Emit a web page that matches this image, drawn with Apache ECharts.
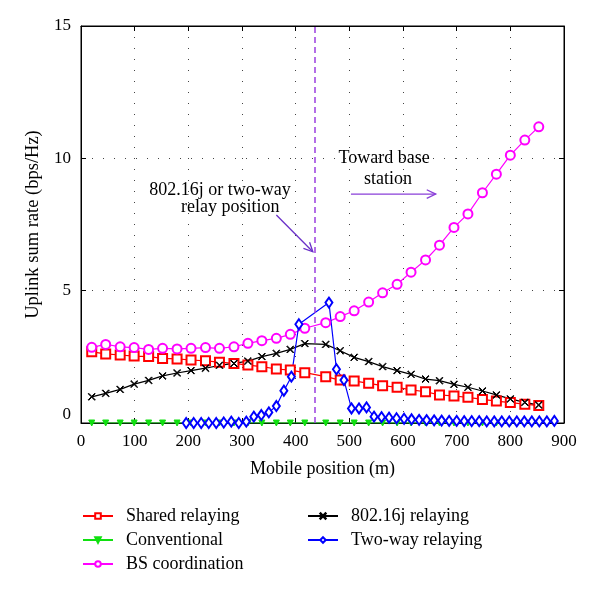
<!DOCTYPE html>
<html>
<head>
<meta charset="utf-8">
<script src="https://cdn.jsdelivr.net/npm/echarts@6/dist/echarts.min.js"></script>
<style>
html, body { margin: 0; padding: 0; background: #fff; }
#uplink-chart { width: 600px; height: 593px; }
</style>
</head>
<body>
<div id="uplink-chart"></div>
<script>
// mobile positions (m) shared by the first four curves
var mobilePos = [20, 46, 73, 99, 126, 152, 179, 205, 232, 258, 285, 311, 337, 364, 390, 417,
	456, 483, 509, 536, 562, 589, 615, 642, 668, 695, 721, 748, 774, 800, 827, 853];
var sharedRelaying = [2.69, 2.61, 2.57, 2.53, 2.51, 2.44, 2.42, 2.38, 2.35, 2.30, 2.25, 2.19, 2.13, 2.04, 2.00, 1.90,
	1.75, 1.62, 1.59, 1.50, 1.41, 1.35, 1.25, 1.18, 1.06, 1.02, 0.97, 0.89, 0.83, 0.77, 0.71, 0.66];
var conventional = [0, 0, 0, 0, 0, 0, 0, 0, 0, 0, 0, 0, 0, 0, 0, 0,
	0, 0, 0, 0, 0, 0, 0, 0, 0, 0, 0, 0, 0, 0, 0, 0];
var bsCoordination = [2.86, 2.97, 2.88, 2.85, 2.78, 2.82, 2.80, 2.82, 2.85, 2.82, 2.88, 3.01, 3.11, 3.20, 3.35, 3.58,
	3.79, 4.02, 4.24, 4.57, 4.92, 5.24, 5.70, 6.16, 6.72, 7.39, 7.90, 8.70, 9.40, 10.12, 10.69, 11.19];
var relay80216j = [0.99, 1.12, 1.27, 1.47, 1.61, 1.78, 1.89, 1.98, 2.07, 2.18, 2.25, 2.34, 2.51, 2.63, 2.78, 3.00,
	2.97, 2.73, 2.48, 2.32, 2.13, 1.98, 1.84, 1.66, 1.60, 1.46, 1.35, 1.21, 1.06, 0.91, 0.78, 0.68];

// two-way relaying is sampled on its own, finer grid
var twoWayPos = [196, 210, 224, 238, 252, 266, 280, 294, 308, 322, 336, 350, 364, 378, 392, 406,
	462, 476, 490, 504, 518, 532, 546, 560, 574, 588, 602, 616, 630, 644, 658, 672,
	686, 700, 714, 728, 742, 756, 770, 784, 798, 812, 826, 840, 854, 868, 882];
var twoWayRelaying = [0, 0, 0, 0, 0, 0.02, 0.05, 0, 0.05, 0.24, 0.30, 0.40, 0.64, 1.22, 1.75, 3.73,
	4.55, 2.03, 1.62, 0.55, 0.55, 0.59, 0.24, 0.22, 0.20, 0.18, 0.16, 0.14, 0.12, 0.11, 0.10, 0.09,
	0.08, 0.08, 0.07, 0.07, 0.07, 0.06, 0.06, 0.06, 0.06, 0.06, 0.06, 0.06, 0.06, 0.06, 0.08];

var relayPos = 435;
var xTicks = { min: 0, max: 900, step: 100 };
var yTicks = { min: 0, max: 15, step: 5 };

var serif = '"Liberation Serif", "DejaVu Serif", serif';

function zip(xs, ys) {
	var out = [];
	for (var i = 0; i < xs.length; i++) {
		out.push([xs[i], ys[i]]);
	}
	return out;
}

// MATLAB-like thin "x" marker
var crossMark = 'path://M0,0.7L0.7,0L5,4.3L9.3,0L10,0.7L5.7,5L10,9.3L9.3,10L5,5.7L0.7,10L0,9.3L4.3,5Z';

function frameAxis(pos, ticks, withLabels) {
	return {
		type: 'value',
		position: pos,
		min: ticks.min,
		max: ticks.max,
		interval: ticks.step,
		axisLine: { show: true, onZero: false, lineStyle: { color: '#000', width: 1 } },
		axisTick: { show: true, inside: true, length: 5, lineStyle: { color: '#000' } },
		axisLabel: { show: withLabels, color: '#000', fontSize: 17, fontFamily: serif, margin: 10 },
		splitLine: {
			show: withLabels,
			lineStyle: { color: '#444', width: 1, type: [1, 10] }
		}
	};
}

var xBottom = frameAxis('bottom', xTicks, true);
xBottom.name = 'Mobile position (m)';
xBottom.nameLocation = 'middle';
xBottom.nameGap = 37;
xBottom.nameTextStyle = { color: '#000', fontSize: 18, fontFamily: serif };

var yLeft = frameAxis('left', yTicks, true);
yLeft.name = 'Uplink sum rate (bps/Hz)';
yLeft.nameLocation = 'middle';
yLeft.nameGap = 37;
yLeft.nameTextStyle = { color: '#000', fontSize: 18.5, fontFamily: serif };
// the "0" on the y axis sits a little above the corner, as in the original
yLeft.axisLabel.formatter = function (v) { return v === 0 ? '{z|0}' : String(v); };
yLeft.axisLabel.rich = { z: { fontSize: 17, fontFamily: serif, color: '#000', padding: [0, 0, 16, 0] } };

function lineSeries(name, xs, ys, color, symbol, size, extra) {
	var s = {
		name: name,
		type: 'line',
		data: zip(xs, ys),
		symbol: symbol,
		symbolSize: size,
		showAllSymbol: true,
		lineStyle: { color: color, width: 1.2 },
		itemStyle: { color: color, borderColor: color, borderWidth: 1 }
	};
	for (var k in extra) s[k] = extra[k];
	return s;
}

var legendText = { color: '#000', fontSize: 18, fontFamily: serif, padding: [0, 0, 0, 8] };

var chart = echarts.init(document.getElementById('uplink-chart'));
chart.setOption({
	animation: false,
	backgroundColor: '#fff',
	grid: { left: 81, right: 36, top: 26, bottom: 170, show: true, borderColor: '#000', borderWidth: 1 },
	legend: [{
		left: 77, top: 502, orient: 'vertical', itemGap: 6, itemWidth: 30, itemHeight: 7,
		textStyle: legendText,
		data: ['Shared relaying', 'Conventional', 'BS coordination']
	}, {
		left: 302, top: 502, orient: 'vertical', itemGap: 6, itemWidth: 30, itemHeight: 7,
		textStyle: legendText,
		data: ['802.16j relaying', 'Two-way relaying']
	}],
	xAxis: [xBottom, frameAxis('top', xTicks, false)],
	yAxis: [yLeft, frameAxis('right', yTicks, false)],
	series: [
		lineSeries('Shared relaying', mobilePos, sharedRelaying, '#ff0000', 'emptyRect', 9),
		lineSeries('Conventional', mobilePos, conventional, '#10e010', 'triangle', 6, { symbolRotate: 180 }),
		lineSeries('BS coordination', mobilePos, bsCoordination, '#ff00ff', 'emptyCircle', 9),
		lineSeries('802.16j relaying', mobilePos, relay80216j, '#000000', crossMark, 7),
		lineSeries('Two-way relaying', twoWayPos, twoWayRelaying, '#0000ff', 'emptyDiamond', [7, 10], {
			markLine: {
				silent: true,
				symbol: 'none',
				label: { show: false },
				lineStyle: { color: '#9a3fe0', width: 1.5, type: [6, 4] },
				data: [{ xAxis: relayPos }]
			}
		})
	]
});

// annotations, anchored in data units
function px(x, y) {
	return chart.convertToPixel({ xAxisIndex: 0, yAxisIndex: 0 }, [x, y]);
}

function arrow(from, to, color) {
	var a = px(from[0], from[1]), b = px(to[0], to[1]);
	var ang = Math.atan2(b[1] - a[1], b[0] - a[0]), L = 10, t = 0.45;
	var h1 = [b[0] - L * Math.cos(ang - t), b[1] - L * Math.sin(ang - t)];
	var h2 = [b[0] - L * Math.cos(ang + t), b[1] - L * Math.sin(ang + t)];
	var st = { stroke: color, lineWidth: 1.3, fill: null };
	return [
		{ type: 'polyline', shape: { points: [a, b] }, style: st, silent: true },
		{ type: 'polyline', shape: { points: [h1, b, h2] }, style: st, silent: true }
	];
}

function label(text, x, y) {
	var p = px(x, y);
	return {
		type: 'text', x: p[0], y: p[1], silent: true,
		style: { text: text, fill: '#000', fontSize: 18, fontFamily: serif, align: 'center', verticalAlign: 'middle' }
	};
}

var notes = [
	label('802.16j or two-way', 259, 8.78),
	label('relay position', 278, 8.15),
	label('Toward base', 565, 10.02),
	label('station', 572, 9.2)
].concat(arrow([364, 7.86], [432, 6.47], '#6a2fc8'), arrow([503, 8.65], [661, 8.65], '#8a3fd8'));

chart.setOption({ graphic: notes });
</script>
</body>
</html>
